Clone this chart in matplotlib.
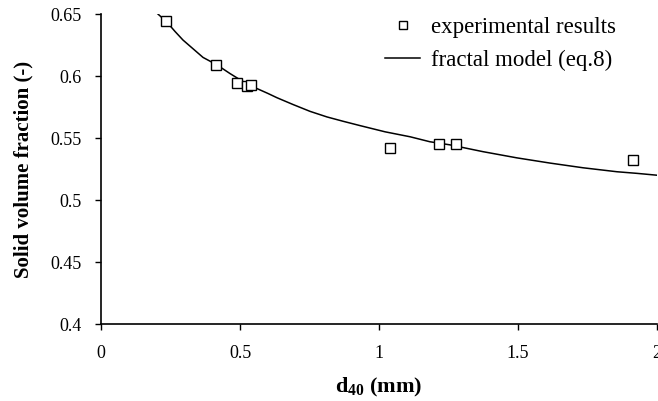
import numpy as np
import matplotlib
matplotlib.use("Agg")
import matplotlib.pyplot as plt

# -----------------------
# Data
# -----------------------
exp_d40 = [0.234, 0.415, 0.49, 0.525, 0.54, 1.04, 1.216, 1.277, 1.914]
exp_phi = [0.644, 0.609, 0.594, 0.592, 0.593, 0.542, 0.545, 0.545, 0.532]

model_d40 = [0.200, 0.237, 0.266, 0.295, 0.331, 0.367, 0.417, 0.464, 0.511,
             0.560, 0.600, 0.633, 0.691, 0.752, 0.813, 0.871, 0.932, 1.022,
             1.112, 1.183, 1.255, 1.374, 1.496, 1.615, 1.734, 1.856, 1.928,
             2.000]
model_phi = [0.6510, 0.6435, 0.6360, 0.6290, 0.6220, 0.6150, 0.6090, 0.6020,
             0.5955, 0.5900, 0.5860, 0.5825, 0.5770, 0.5715, 0.5670, 0.5635,
             0.5600, 0.5550, 0.5510, 0.5470, 0.5445, 0.5390, 0.5340, 0.5298,
             0.5260, 0.5228, 0.5215, 0.5200]

x_ticks = [0, 0.5, 1, 1.5, 2]
x_tick_labels = ["0", "0.5", "1", "1.5", "2"]
y_ticks = [0.4, 0.45, 0.5, 0.55, 0.6, 0.65]
y_tick_labels = ["0.4", "0.45", "0.5", "0.55", "0.6", "0.65"]

# -----------------------
# Plot
# -----------------------
plt.rcParams["font.family"] = ["Liberation Serif", "DejaVu Serif"]
plt.rcParams["mathtext.fontset"] = "custom"
plt.rcParams["mathtext.bf"] = "Liberation Serif:bold"
plt.rcParams["mathtext.rm"] = "Liberation Serif"

fig = plt.figure(figsize=(6.58, 4.01), dpi=100)
ax = fig.add_axes([0.1535, 0.192, 0.845, 0.773])

ax.plot(exp_d40, exp_phi, linestyle="none", marker="s", markersize=7.5,
        markerfacecolor="white", markeredgecolor="black", markeredgewidth=1.0,
        label="experimental results", zorder=3)
ax.plot(model_d40, model_phi, color="black", linewidth=1.1,
        label="fractal model (eq.8)", zorder=2)

ax.set_xlim(0, 2)
ax.set_ylim(0.4, 0.65)
ax.set_xticks(x_ticks)
ax.set_xticklabels(x_tick_labels)
ax.set_yticks(y_ticks)
ax.set_yticklabels(y_tick_labels)

for side in ["top", "right"]:
    ax.spines[side].set_visible(False)
for side in ["left", "bottom"]:
    ax.spines[side].set_linewidth(1.2)

ax.tick_params(axis="both", direction="out", length=4, width=1.0,
               labelsize=13, colors="black")
ax.tick_params(axis="x", pad=11)
ax.tick_params(axis="y", pad=10)

ax.set_xlabel(r"d$_{\mathbf{40}}$ (mm)", fontsize=16, fontweight="bold",
              labelpad=10)
ax.set_ylabel("Solid volume fraction (-)", fontsize=15, fontweight="bold",
              labelpad=12)

leg = fig.legend(loc="upper left", bbox_to_anchor=(0.585, 0.958),
                 frameon=False, fontsize=16.5, handlelength=1.55,
                 handletextpad=0.45, labelspacing=0.5, markerscale=0.75,
                 borderpad=0, borderaxespad=0)

fig.savefig("out.png", dpi=100)
